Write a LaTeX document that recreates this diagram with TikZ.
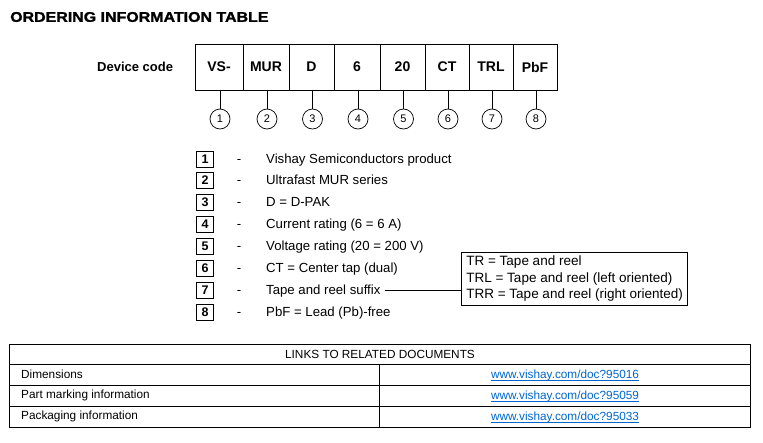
\documentclass[tikz,border=0pt]{standalone}
\usepackage{fontspec}
\setmainfont{Liberation Sans}
\newfontfamily\titlefont[FakeStretch=1.14,FakeBold=1.5]{Liberation Sans Bold}
\definecolor{linkblue}{HTML}{0066CC}
\begin{document}
\begin{tikzpicture}[x=1pt,y=-1pt,
  codebox/.style={draw,line width=0.8pt,minimum width=#1,minimum height=46pt,inner sep=0pt,font=\fontsize{14}{16}\selectfont\bfseries},
  numcirc/.style={draw,circle,line width=0.7pt,minimum size=20pt,inner sep=0pt,font=\fontsize{11}{12}\selectfont},
  numbox/.style={draw,line width=0.8pt,minimum width=17pt,minimum height=16pt,inner sep=0pt,font=\fontsize{12.5}{13}\selectfont\bfseries},
  listtxt/.style={anchor=base west,inner sep=0pt,font=\fontsize{13.2}{14}\selectfont},
  dashtxt/.style={anchor=base,inner sep=0pt,font=\fontsize{13.2}{14}\selectfont},
  tabtxt/.style={inner sep=0pt,font=\fontsize{11.8}{13}\selectfont},
  linktxt/.style={anchor=base,inner sep=0pt,text=linkblue,font=\fontsize{11.8}{13}\selectfont},
  conn/.style={line width=0.8pt}]
\useasboundingbox (0,0) rectangle (763,442);
\node[anchor=west,inner sep=0pt,font=\titlefont\fontsize{14}{16}\selectfont] (title) at (10,17) {ORDERING INFORMATION TABLE};
\node[anchor=west,inner sep=0pt,font=\fontsize{13}{15}\selectfont\bfseries] (dc) at (97,67) {Device code};
% code boxes
\foreach \name/\xa/\xb/\lab/\num in {b1/195/243/VS-/1, b2/243/289/MUR/2, b3/289/334/D/3, b4/334/380/6/4, b5/380/425/20/5, b6/425/469/CT/6, b7/469/513/TRL/7, b8/513/557/PbF/8}{
  \pgfmathsetmacro{\w}{\xb-\xa}
  \node[codebox=\w pt] (\name) at ({(\xa+\xb)/2},67) {\lab};
  \node[numcirc] (c\num) at ({(\xa+\xb)/2+1},119) {\num};
  \draw[conn] (c\num.north |- \name.south) -- (c\num.north);
}
% list
\foreach \n/\y/\t in {1/159/Vishay Semiconductors product, 2/180/Ultrafast MUR series, 3/202/D = D-PAK, 4/224/Current rating (6 = 6 A), 5/246/Voltage rating (20 = 200 V), 6/268/CT = Center tap (dual), 7/290/Tape and reel suffix, 8/312/PbF = Lead (Pb)-free}{
  \node[numbox] (n\n) at (205,\y) {\n};
  \node[dashtxt] (d\n) at (239,\y+4.6) {-};
  \node[listtxt] (t\n) at (266,\y+4.6) {\t};
}
\node[draw,line width=0.7pt,anchor=north west,inner xsep=5pt,inner ysep=3.5pt,align=left,font=\fontsize{13.5}{16.5}\selectfont] (tr) at (461,252) {TR = Tape and reel\\TRL = Tape and reel (left oriented)\\TRR = Tape and reel (right oriented)};
\coordinate (t7end) at ([xshift=4pt,yshift=4pt]t7.base east);
\draw[conn] (t7end) -- (tr.west |- t7end);
% table
\draw[line width=0.8pt] (9,344) rectangle (750,427);
\draw[line width=0.8pt] (9,364) -- (750,364) (9,385) -- (750,385) (9,406) -- (750,406) (379,364) -- (379,427);
\node[tabtxt] (hdr) at (380,354) {LINKS TO RELATED DOCUMENTS};
\node[tabtxt,anchor=west] (r1) at (21,374.5) {Dimensions};
\node[tabtxt,anchor=west] (r2) at (21,395.5) {Part marking information};
\node[tabtxt,anchor=west] (r3) at (21,416.5) {Packaging information};
\foreach \i/\y/\d in {1/374.5/95016, 2/395.5/95059, 3/416.5/95033}{
  \node[linktxt] (l\i) at (565,\y+4.2) {www.vishay.com/doc?\d};
  \draw[linkblue,line width=0.7pt] ([yshift=-1.6pt]l\i.base west) -- ([yshift=-1.6pt]l\i.base east);
}
\end{tikzpicture}
\end{document}
